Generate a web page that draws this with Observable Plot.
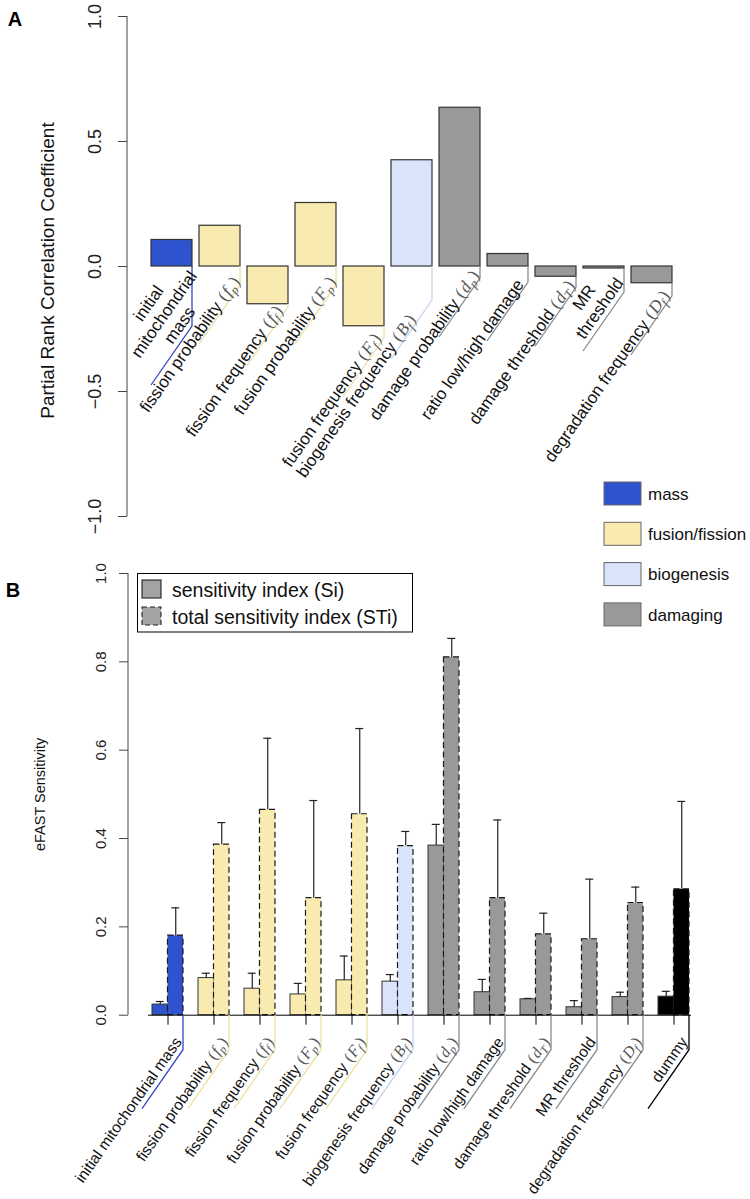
<!DOCTYPE html>
<html><head><meta charset="utf-8">
<script src="https://cdn.jsdelivr.net/npm/d3@7"></script>
<script src="https://cdn.jsdelivr.net/npm/@observablehq/plot@0.6"></script>
<style>
body{margin:0;background:#fff;}
#wrap{position:relative;width:750px;height:1199px;overflow:hidden;font-family:"Liberation Sans",Arial,Helvetica,sans-serif;}
#wrap > svg{position:absolute;left:0;}
</style></head><body><div id="wrap"></div>
<script>
// ---------------- data ----------------
const groupNames = ["mass", "fusion/fission", "biogenesis", "damaging", "dummy"];
const legendGroups = ["mass", "fusion/fission", "biogenesis", "damaging"];

// Panel A: partial rank correlation coefficients
const prccParams = ["initial\nmitochondrial\nmass", "fission probability", "fission frequency", "fusion probability",
  "fusion frequency", "biogenesis frequency", "damage probability", "ratio low/high damage",
  "damage threshold", "MR\nthreshold", "degradation frequency"];
const prccSymbols = ["", "f_p", "f_f", "F_p", "F_f", "B_f", "d_p", "", "d_T", "", "D_f"];
const prccGroups = ["mass", "fusion/fission", "fusion/fission", "fusion/fission", "fusion/fission",
  "biogenesis", "damaging", "damaging", "damaging", "damaging", "damaging"];
const prccValues = [0.106, 0.163, -0.151, 0.254, -0.239, 0.425, 0.635, 0.050, -0.041, -0.008, -0.067];
const prccTicks = [-1, -0.5, 0, 0.5, 1];

// Panel B: eFAST sensitivity
const efastParams = ["initial mitochondrial mass", "fission probability", "fission frequency", "fusion probability",
  "fusion frequency", "biogenesis frequency", "damage probability", "ratio low/high damage",
  "damage threshold", "MR threshold", "degradation frequency", "dummy"];
const efastSymbols = ["", "f_p", "f_f", "F_p", "F_f", "B_f", "d_p", "", "d_T", "", "D_f", ""];
const efastGroups = ["mass", "fusion/fission", "fusion/fission", "fusion/fission", "fusion/fission",
  "biogenesis", "damaging", "damaging", "damaging", "damaging", "damaging", "dummy"];
const siValues   = [0.024, 0.084, 0.060, 0.047, 0.079, 0.076, 0.384, 0.052, 0.036, 0.018, 0.041, 0.042];
const siUpper    = [0.031, 0.095, 0.095, 0.072, 0.134, 0.092, 0.432, 0.081, 0.038, 0.033, 0.052, 0.054];
const stiValues  = [0.180, 0.386, 0.465, 0.265, 0.455, 0.383, 0.810, 0.265, 0.183, 0.172, 0.254, 0.285];
const stiUpper   = [0.243, 0.436, 0.627, 0.486, 0.649, 0.416, 0.853, 0.442, 0.231, 0.308, 0.290, 0.484];
const efastTicks = [0, 0.2, 0.4, 0.6, 0.8, 1];

// ---------------- styles / layout ----------------
const FONT = '"Liberation Sans", Arial, Helvetica, sans-serif';
const SERIF = '"Liberation Serif", "DejaVu Serif", serif';
const fillColors = ["#2f53cf", "#f9ebb0", "#d9e4fa", "#999999", "#000000"];
const leaderColors = ["#3345c0", "#eee0a0", "#c6d3f0", "#8c8c8c", "#000000"];
const colorOf = g => leaderColors[groupNames.indexOf(g)];
const ANG = -55;                 // label rotation
const DIAG = [-41, 59];          // leader diagonal
// label placement (px): drop of leader line below the bar, shift of text along its direction
const labelDropA  = [60, 19, 3, 19, 12, 34, 12, 16, 11, 24, 13];
const labelAlongA = [-6.4, 3, -6, 3, -2, -25, 2, -4, 1, -27.4, -1];

const wrap = d3.select("#wrap");

function addLabel(g, x, y, text, sym, anchor, along, up, size, lh) {
  const t = g.append("g").attr("transform", `translate(${x},${y}) rotate(${ANG})`);
  const lines = text.split("\n");
  lines.forEach((ln, k) => {
    const i = lines.length - 1 - k;
    const tx = t.append("text").attr("x", along).attr("y", -up - i * lh)
      .attr("text-anchor", anchor).attr("font-size", size).attr("fill", "#111")
      .attr("font-family", FONT);
    tx.append("tspan").text(ln);
    if (k === lines.length - 1 && sym) {
      const [base, sub] = sym.split("_");
      const ms = size * 1.02;
      const m = {"font-family": SERIF, "fill": "#555", "font-size": ms};
      const sp = (el, o) => { Object.entries(o).forEach(([a, v]) => el.attr(a, v)); return el; };
      sp(tx.append("tspan").text("\u2009("), m).attr("dx", 2);
      sp(tx.append("tspan").text(base), m).attr("font-style", "italic").attr("dx", 1);
      sp(tx.append("tspan").text(sub), m).attr("font-style", "italic")
        .attr("font-size", ms * 0.72).attr("dy", ms * 0.22);
      sp(tx.append("tspan").text(")"), m).attr("dy", -ms * 0.22).attr("dx", 1.5);
    }
  });
}

// ---------------- Panel A ----------------
const rowsA = prccParams.map((p, i) => ({param: p, sym: prccSymbols[i], group: prccGroups[i], value: prccValues[i]}));
const LA = {width: 750, height: 540, top: 16, bottom: 24, left: 127, right: 68.4, inset: 13.4, pad: 0.156};

const plotA = Plot.plot({
  width: LA.width, height: LA.height,
  marginTop: LA.top, marginBottom: LA.bottom, marginLeft: LA.left, marginRight: LA.right,
  style: {background: "transparent", overflow: "visible", fontFamily: FONT, color: "#222"},
  x: {type: "band", domain: prccParams, padding: LA.pad, insetLeft: LA.inset, axis: null},
  y: {domain: [-1, 1]},
  color: {domain: groupNames, range: fillColors},
  marks: [
    Plot.barY(rowsA, {x: "param", y: "value", fill: "group", stroke: "#333", strokeWidth: 1.2}),
    Plot.axisY({ticks: prccTicks, tickFormat: d3.format(".1f"), tickSize: 9, tickRotate: -90, tickPadding: 18,
      fontSize: 18, label: null, stroke: "#444"}),
    Plot.text(["Partial Rank Correlation Coefficient"], {text: d => d, frameAnchor: "left", textAnchor: "middle",
      lineAnchor: "middle", rotate: -90, dx: -79.5, dy: 4, fontSize: 19, fill: "#111"})
  ]
});
d3.select(plotA).style("top", "0px");
wrap.node().appendChild(plotA);
{
  const xs = plotA.scale("x"), ys = plotA.scale("y");
  const g = d3.select(plotA).append("g");
  g.append("line").attr("x1", LA.left).attr("x2", LA.left)
    .attr("y1", ys.apply(-1)).attr("y2", ys.apply(1)).attr("stroke", "#444").attr("stroke-width", 1);
  rowsA.forEach((r, i) => {
    const bx = xs.apply(r.param) + xs.bandwidth;
    const by = ys.apply(Math.min(r.value, 0));
    const cy = by + labelDropA[i];
    g.append("path").attr("d", `M${bx},${by}V${cy}l${DIAG[0]},${DIAG[1]}`)
      .attr("fill", "none").attr("stroke", colorOf(r.group)).attr("stroke-width", 1.3);
    const multi = r.param.includes("\n");
    addLabel(g, bx, cy, r.param, r.sym, multi ? "middle" : "end", labelAlongA[i], multi ? 5 : 1.5, 17, 19);
  });
}

// ---------------- Panel B ----------------
const rowsB = efastParams.map((p, i) => ({param: p, sym: efastSymbols[i], group: efastGroups[i],
  si: siValues[i], siHi: siUpper[i], sti: stiValues[i], stiHi: stiUpper[i]}));
const LB = {width: 750, height: 659, top: 33, bottom: 184.3, left: 128, right: 43.6, inset: 6.6, pad: 0.332, offset: 540};
const stepB = (LB.width - LB.left - LB.right - LB.inset) / (efastParams.length + LB.pad);
const bwB = stepB * (1 - LB.pad);
const ebar = {stroke: "#222", strokeWidth: 1.2};

const plotB = Plot.plot({
  width: LB.width, height: LB.height,
  marginTop: LB.top, marginBottom: LB.bottom, marginLeft: LB.left, marginRight: LB.right,
  style: {background: "transparent", overflow: "visible", fontFamily: FONT, color: "#222"},
  x: {type: "band", domain: efastParams, padding: LB.pad, insetLeft: LB.inset},
  y: {domain: [0, 1]},
  color: {domain: groupNames, range: fillColors},
  marks: [
    Plot.barY(rowsB, {x: "param", y: "si", fill: "group", stroke: "#333", strokeWidth: 1, insetRight: bwB / 2}),
    Plot.barY(rowsB, {x: "param", y: "sti", fill: "group", stroke: "#1a1a1a", strokeWidth: 1.2,
      strokeDasharray: "6,3.5", insetLeft: bwB / 2}),
    Plot.ruleX(rowsB, {x: "param", y1: "si", y2: "siHi", dx: -bwB / 4, ...ebar}),
    Plot.ruleX(rowsB, {x: "param", y1: "sti", y2: "stiHi", dx: bwB / 4, ...ebar}),
    Plot.tickY(rowsB, {x: "param", y: "siHi", insetLeft: bwB / 4 - 4, insetRight: 3 * bwB / 4 - 4, ...ebar}),
    Plot.tickY(rowsB, {x: "param", y: "stiHi", insetLeft: 3 * bwB / 4 - 4, insetRight: bwB / 4 - 4, ...ebar}),
    Plot.ruleY([0], {insetLeft: LB.inset + stepB * LB.pad - 2, insetRight: stepB * LB.pad, stroke: "#000"}),
    Plot.axisX({tickSize: 10, tickFormat: () => "", label: null, stroke: "#000"}),
    Plot.axisY({ticks: efastTicks, tickFormat: d3.format(".1f"), tickSize: 9, tickRotate: -90, tickPadding: 14,
      fontSize: 15, label: null, stroke: "#444"}),
    Plot.text(["eFAST Sensitivity"], {text: d => d, frameAnchor: "left", textAnchor: "middle", lineAnchor: "middle",
      rotate: -90, dx: -88, fontSize: 14.5, fill: "#111"})
  ]
});
d3.select(plotB).style("top", LB.offset + "px");
wrap.node().appendChild(plotB);
{
  const xs = plotB.scale("x"), ys = plotB.scale("y");
  const g = d3.select(plotB).append("g");
  g.append("line").attr("x1", LB.left).attr("x2", LB.left)
    .attr("y1", ys.apply(0)).attr("y2", ys.apply(1)).attr("stroke", "#444").attr("stroke-width", 1);
  rowsB.forEach(r => {
    const bx = xs.apply(r.param) + xs.bandwidth;
    const by = ys.apply(0);
    const cy = by + 35;
    g.append("path").attr("d", `M${bx},${by}V${cy}l${DIAG[0]},${DIAG[1]}`)
      .attr("fill", "none").attr("stroke", colorOf(r.group)).attr("stroke-width", 1.3);
    addLabel(g, bx, cy, r.param, r.sym, "end", 6, 5, 15.5, 18);
  });
}

// ---------------- overlay: panel letters and legends ----------------
const ov = wrap.append("svg").attr("width", 750).attr("height", 1199)
  .style("top", "0px").style("pointer-events", "none").attr("font-family", FONT);
ov.append("text").attr("x", 15).attr("y", 26).attr("text-anchor", "middle")
  .attr("font-weight", "bold").attr("font-size", 20).text("A");
ov.append("text").attr("x", 13).attr("y", 597).attr("text-anchor", "middle")
  .attr("font-weight", "bold").attr("font-size", 20).text("B");

legendGroups.forEach((gname, i) => {
  const y0 = 482 + i * 40.3;
  ov.append("rect").attr("x", 604).attr("y", y0).attr("width", 37).attr("height", 23)
    .attr("fill", fillColors[groupNames.indexOf(gname)]).attr("stroke", "#666").attr("stroke-width", 1);
  ov.append("text").attr("x", 648).attr("y", y0 + 11.5).attr("dy", "0.36em")
    .attr("font-size", 17).attr("fill", "#111").text(gname);
});

ov.append("rect").attr("x", 137.5).attr("y", 573.5).attr("width", 275).attr("height", 58.5)
  .attr("fill", "#fff").attr("stroke", "#000").attr("stroke-width", 1);
const siLegend = [
  {label: "sensitivity index (Si)", dash: null},
  {label: "total sensitivity index (STi)", dash: "5,3"}
];
siLegend.forEach((d, i) => {
  const y0 = 580 + i * 27;
  ov.append("rect").attr("x", 142).attr("y", y0).attr("width", 19).attr("height", 18)
    .attr("fill", "#a3a3a3").attr("stroke", "#222").attr("stroke-width", 1.1)
    .attr("stroke-dasharray", d.dash);
  ov.append("text").attr("x", 172).attr("y", y0 + 16.5).attr("font-size", 19.5).attr("fill", "#111").text(d.label);
});
</script></body></html>
